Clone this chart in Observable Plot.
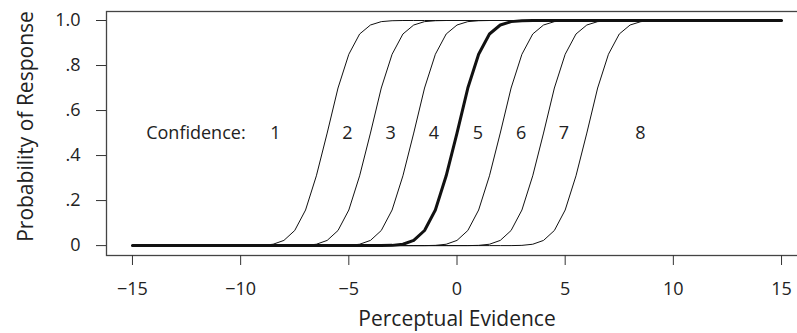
<!DOCTYPE html>
<html>
<head>
<meta charset="utf-8">
<script src="https://cdn.jsdelivr.net/npm/d3@7"></script>
<script src="https://cdn.jsdelivr.net/npm/@observablehq/plot@0.6"></script>
<style>
  html, body { margin: 0; padding: 0; background: #fff; overflow: hidden; width: 797px; }
  #chart { width: 797px; overflow: hidden; }
  #chart svg { font-family: "Open Sans", sans-serif; display: block; max-width: none !important; width: 807px; height: 333px; }
</style>
</head>
<body>
<div id="chart"></div>
<script>
// Perceptual evidence grid (x values)
const evidence = [-15, -9, -8.5, -8, -7.5, -7, -6.5, -6, -5.5, -5, -4.5, -4, -3.5, -3, -2.5, -2, -1.5, -1, -0.5, 0, 0.5, 1, 1.5, 2, 2.5, 3, 3.5, 4, 4.5, 5, 5.5, 6, 6.5, 7, 7.5, 8, 8.5, 9, 15];

// Probability of response for each criterion curve
const curve1 = [0, 0.001, 0.006, 0.023, 0.067, 0.158, 0.31, 0.5, 0.70, 0.85, 0.94, 0.98, 0.995, 0.999,
  1, 1, 1, 1, 1, 1, 1, 1, 1, 1, 1, 1, 1, 1, 1, 1, 1, 1, 1, 1, 1, 1, 1, 1, 1];
const curve2 = [0, 0, 0, 0, 0, 0.001, 0.006, 0.023, 0.067, 0.158, 0.31, 0.5, 0.70, 0.85, 0.94, 0.98, 0.995, 0.999,
  1, 1, 1, 1, 1, 1, 1, 1, 1, 1, 1, 1, 1, 1, 1, 1, 1, 1, 1, 1, 1];
const curve3 = [0, 0, 0, 0, 0, 0, 0, 0, 0, 0.001, 0.006, 0.023, 0.067, 0.158, 0.31, 0.5, 0.70, 0.85, 0.94, 0.98, 0.995, 0.999,
  1, 1, 1, 1, 1, 1, 1, 1, 1, 1, 1, 1, 1, 1, 1, 1, 1];
const curve4 = [0, 0, 0, 0, 0, 0, 0, 0, 0, 0, 0, 0, 0, 0.001, 0.006, 0.023, 0.067, 0.158, 0.31, 0.5, 0.70, 0.85, 0.94, 0.98, 0.995, 0.999,
  1, 1, 1, 1, 1, 1, 1, 1, 1, 1, 1, 1, 1];
const curve5 = [0, 0, 0, 0, 0, 0, 0, 0, 0, 0, 0, 0, 0, 0, 0, 0, 0, 0.001, 0.006, 0.023, 0.067, 0.158, 0.31, 0.5, 0.70, 0.85, 0.94, 0.98, 0.995, 0.999,
  1, 1, 1, 1, 1, 1, 1, 1, 1];
const curve6 = [0, 0, 0, 0, 0, 0, 0, 0, 0, 0, 0, 0, 0, 0, 0, 0, 0, 0, 0, 0, 0, 0.001, 0.006, 0.023, 0.067, 0.158, 0.31, 0.5, 0.70, 0.85, 0.94, 0.98, 0.995, 0.999,
  1, 1, 1, 1, 1];
const curve7 = [0, 0, 0, 0, 0, 0, 0, 0, 0, 0, 0, 0, 0, 0, 0, 0, 0, 0, 0, 0, 0, 0, 0, 0, 0, 0.001, 0.006, 0.023, 0.067, 0.158, 0.31, 0.5, 0.70, 0.85, 0.94, 0.98, 0.995, 0.999,
  1];

const thinCurves = [curve1, curve2, curve3, curve5, curve6, curve7];
const boldCurve = curve4;

// Confidence labels
const confLabels = ["1", "2", "3", "4", "5", "6", "7", "8"];
const confLabelX = [-8.39, -5.07, -3.07, -1.07, 0.96, 2.97, 4.94, 8.48];
const confLabelY = 0.5;
const confTitle = "Confidence:";
const confTitleX = -9.77;

// Axis ticks
const xTicks = [-15, -10, -5, 0, 5, 10, 15];
const yTicks = [0, 0.2, 0.4, 0.6, 0.8, 1.0];
const yTickLabels = ["0", ".2", ".4", ".6", ".8", "1.0"];
const xTitle = "Perceptual Evidence";
const yTitle = "Probability of Response";

const xDomain = [-16.2, 16.2];
const yDomain = [-0.044, 1.04];

const toRows = (ys, id) => evidence.map((x, i) => ({x, y: ys[i], id}));
const thinRows = thinCurves.flatMap((c, k) => toRows(c, k));
const boldRows = toRows(boldCurve, 99);

const FS = 18;
const FT = 21;

const chart = Plot.plot({
  width: 807,
  height: 333,
  marginLeft: 106,
  marginRight: 0,
  marginTop: 11,
  marginBottom: 78,
  style: {fontSize: FS + "px", fontFamily: "'Open Sans', sans-serif", color: "#222", background: "#fff", maxWidth: "none"},
  x: {domain: xDomain},
  y: {domain: yDomain},
  marks: [
    Plot.frame({stroke: "#444", strokeWidth: 1.3}),
    Plot.axisX({ticks: xTicks, tickSize: 10, tickPadding: 17, label: null, fontSize: FS, stroke: "#333", tickFormat: d => d < 0 ? "\u2212" + Math.abs(d) : String(d)}),
    Plot.axisY({ticks: yTicks, tickSize: 10, tickPadding: 16, label: null, fontSize: FS, stroke: "#333", tickFormat: d => yTickLabels[yTicks.indexOf(d)]}),
    Plot.line(thinRows, {x: "x", y: "y", z: "id", stroke: "#111", strokeWidth: 1}),
    Plot.line(boldRows, {x: "x", y: "y", stroke: "#111", strokeWidth: 3}),
    Plot.text(confLabels, {x: confLabelX, y: confLabels.map(() => confLabelY), text: d => d, fontSize: FS, fill: "#222"}),
    Plot.text([confTitle], {x: [confTitleX], y: [confLabelY], text: d => d, textAnchor: "end", fontSize: FS, fill: "#222"}),
    Plot.text([xTitle], {x: [0], frameAnchor: "bottom", dy: 70, text: d => d, fontSize: FT, fill: "#222"}),
    Plot.text([yTitle], {frameAnchor: "left", dx: -80, dy: -7, rotate: -90, textAnchor: "middle", text: d => d, fontSize: FT, fill: "#222"})
  ]
});
document.getElementById("chart").appendChild(chart);
</script>
</body>
</html>
